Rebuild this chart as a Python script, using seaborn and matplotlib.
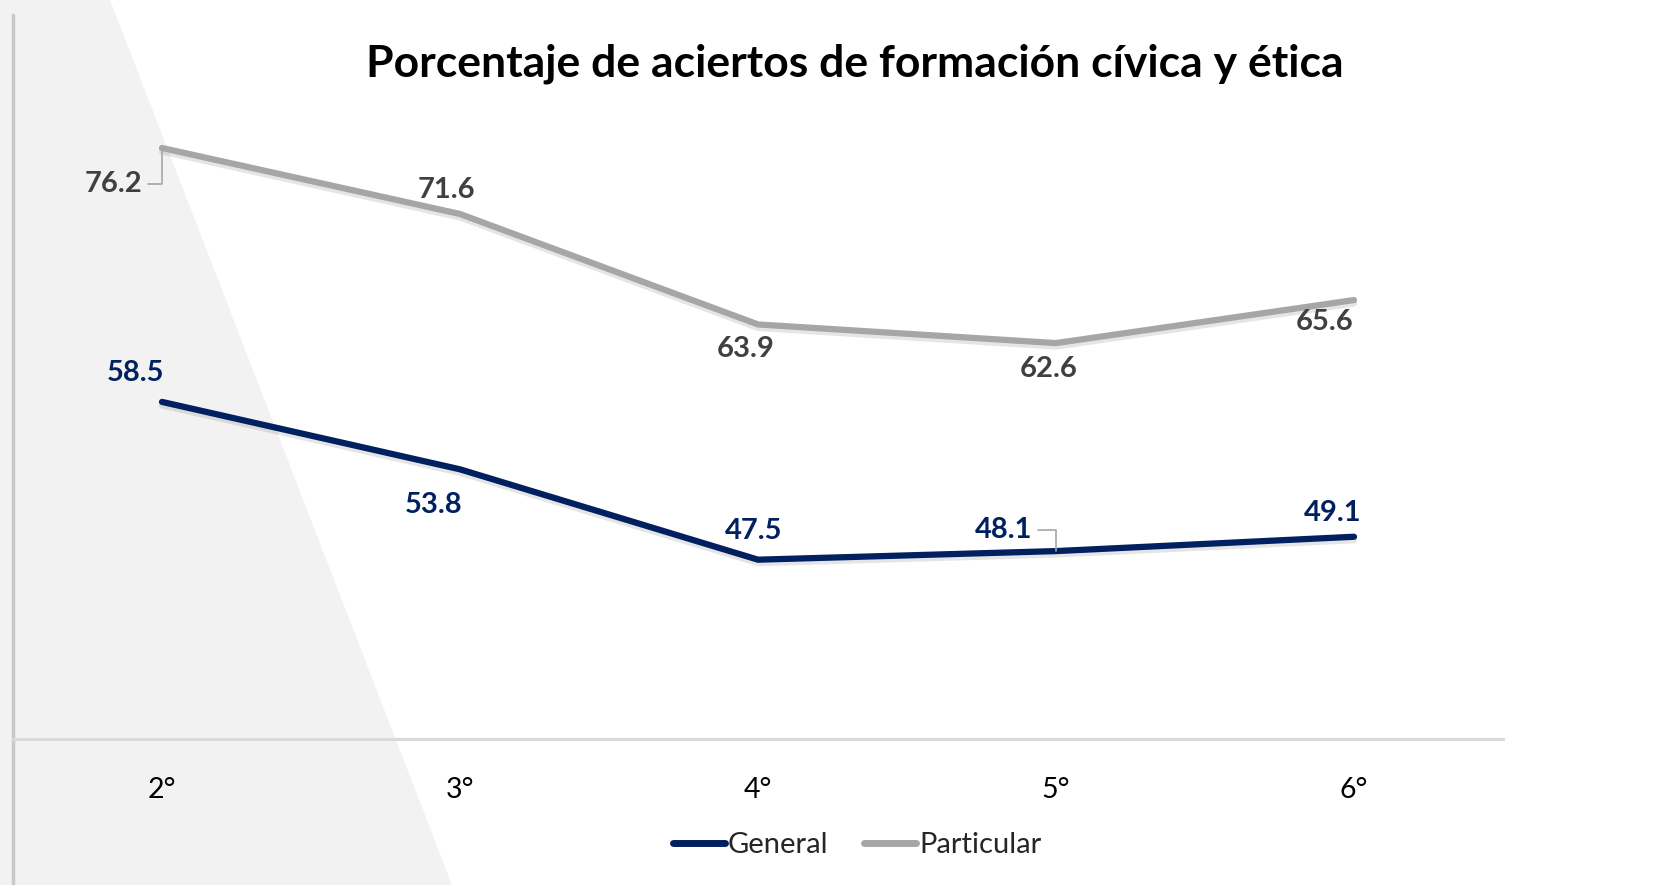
import numpy as np
import pandas as pd
import matplotlib.pyplot as plt
import matplotlib.patheffects as pe
from matplotlib.lines import Line2D
from matplotlib.patches import Polygon
import seaborn as sns

# Data
grados = ['2°', '3°', '4°', '5°', '6°']
general = [58.5, 53.8, 47.5, 48.1, 49.1]
particular = [76.2, 71.6, 63.9, 62.6, 65.6]

# label offsets (points) relative to each point
off_general = [(-19, 21), (-19, -26), (-3, 21), (-38, 15), (-15, 17)]
off_particular = [(-35, -26), (-10, 17), (-9, -18), (-5, -19), (-21, -16)]

NAVY = '#002060'
GRAY = '#A6A6A6'

df = pd.DataFrame({
    'pos': list(range(len(grados))) * 2,
    'valor': general + particular,
    'tipo': ['General'] * len(grados) + ['Particular'] * len(grados),
})

sns.set_style('white')
plt.rcParams['font.family'] = ['Lato', 'DejaVu Sans']

fig = plt.figure(figsize=(16.79, 8.85), dpi=100)

# gray slanted background on the left
fig.patches.append(Polygon([(0, 1), (110 / 1679, 1), (452 / 1679, 0), (0, 0)],
                           closed=True, transform=fig.transFigure,
                           facecolor='#F2F2F2', edgecolor='none', zorder=-10))
# left border line
fig.add_artist(Line2D([13 / 1679, 13 / 1679], [0, 1 - 15 / 885], transform=fig.transFigure,
                      color='#C8C8C8', lw=2.5, zorder=-5))

ax = fig.add_axes([13 / 1679, 1 - 739 / 885, 1490 / 1679, (739 - 93.5) / 885])
ax.patch.set_alpha(0)

shadow = [pe.SimpleLineShadow(offset=(0, -2.5), shadow_color='black', alpha=0.1), pe.Normal()]
sns.lineplot(data=df, x='pos', y='valor', hue='tipo', palette={'General': NAVY, 'Particular': GRAY},
             linewidth=4.5, ax=ax, legend=False, solid_capstyle='round')
for ln in ax.get_lines():
    ln.set_path_effects(shadow)

ax.set_xlim(-0.5, 4.5)
ax.set_ylim(35, 80)
ax.set_yticks([])
ax.set_xticks(range(len(grados)))
ax.set_xticklabels(grados, fontsize=20.5, color='black')
ax.tick_params(axis='x', length=0, pad=27)
ax.set_xlabel('')
ax.set_ylabel('')
for s in ['top', 'right', 'left']:
    ax.spines[s].set_visible(False)
ax.spines['bottom'].set_color('#D9D9D9')
ax.spines['bottom'].set_linewidth(2.2)

leader = dict(arrowstyle='-', color='#A6A6A6', lw=1.2, shrinkA=2, shrinkB=0,
              connectionstyle='angle,angleA=0,angleB=90,rad=0')

for i, v in enumerate(general):
    kw = {}
    if i == 3:
        kw['arrowprops'] = leader
    ax.annotate(f'{v:.1f}', (i, v), xytext=off_general[i], textcoords='offset points',
                ha='center', va='center', fontsize=21, fontweight='bold', color=NAVY, **kw)
for i, v in enumerate(particular):
    kw = {}
    if i == 0:
        kw['arrowprops'] = leader
    ax.annotate(f'{v:.1f}', (i, v), xytext=off_particular[i], textcoords='offset points',
                ha='center', va='center', fontsize=21, fontweight='bold', color='#404040', **kw)

fig.text(855 / 1679, 1 - 64 / 885, 'Porcentaje de aciertos de formación cívica y ética',
         ha='center', va='center', fontsize=32, fontweight='bold', color='black')

handles = [Line2D([], [], color=NAVY, lw=5, solid_capstyle='round'),
           Line2D([], [], color=GRAY, lw=5, solid_capstyle='round')]
fig.legend(handles, ['General', 'Particular'], loc='center', bbox_to_anchor=(857 / 1679, 1 - 845 / 885),
           ncol=2, frameon=False, fontsize=21, handlelength=1.8, handletextpad=0.1, columnspacing=1.2)

fig.savefig('out.png', dpi=100)
